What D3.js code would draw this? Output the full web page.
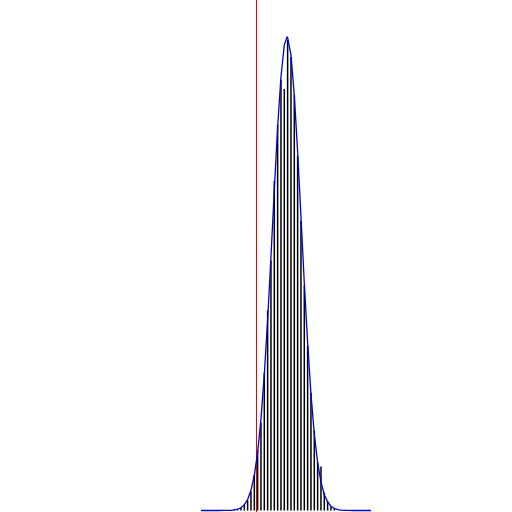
<!DOCTYPE html>
<html>
<head>
<meta charset="utf-8">
<script src="https://cdn.jsdelivr.net/npm/d3@7"></script>
<style>
html,body{margin:0;padding:0;background:#fff;}
svg{display:block;}
</style>
</head>
<body>
<svg id="chart" width="512" height="512"></svg>
<script>
// Histogram spike values (integer bins) and counts
const binValues = [71,72,73,74,75,76,77,78,79,80,81,82,83,84,85,86,87,88,89,90,91,92,93,94,95,96,97,98,99,100,101];
const binCounts = [2,2,6,12,20,37,70,117,172,270,392,490,646,756,844,826,922,889,814,695,568,441,323,231,157,94,86,35,18,8,4];

// Fitted density curve (in count units)
const curveX = [61,66,68,69,70,71,72,73,74,75,76,77,78,79,80,81,82,83,84,85,86,86.8,87,88,89,90,91,92,93,94,95,96,97,98,99,100,101,102,103,104,105,107,112];
const curveY = [0,0,0.1,0.2,0.4,1.1,2.5,5.4,11,21.5,39.5,69,114,179,266,374,497,628,751,850,912,928,927,893,814,703,576,446,329,228,150,94,56,31,17,8.4,4,1.8,0.7,0.3,0.1,0,0];

// Reference (vertical) line value
const refValue = [77.65];

const xDomain = [0.71, 154.31];
const yDomain = [0, 928];

const svg = d3.select("#chart");
const x = d3.scaleLinear().domain(xDomain).range([0, 512]);
const y = d3.scaleLinear().domain(yDomain).range([510.5, 37]);

// spikes
svg.append("g").selectAll("line").data(binValues).join("line")
  .attr("x1", d => x(d)).attr("x2", d => x(d))
  .attr("y1", y(0)).attr("y2", (d, i) => y(binCounts[i]))
  .attr("stroke", "#000").attr("stroke-width", 1.5);

// reference line
svg.append("g").selectAll("line").data(refValue).join("line")
  .attr("x1", d => x(d)).attr("x2", d => x(d))
  .attr("y1", 0).attr("y2", 512)
  .attr("stroke", "#d00000").attr("stroke-width", 1);

// density curve
const pts = curveX.map((v, i) => [v, curveY[i]]);
svg.append("path").datum(pts)
  .attr("fill", "none").attr("stroke", "#0000d0").attr("stroke-width", 1.3)
  .attr("d", d3.line().x(d => x(d[0])).y(d => y(d[1])));
</script>
</body>
</html>
